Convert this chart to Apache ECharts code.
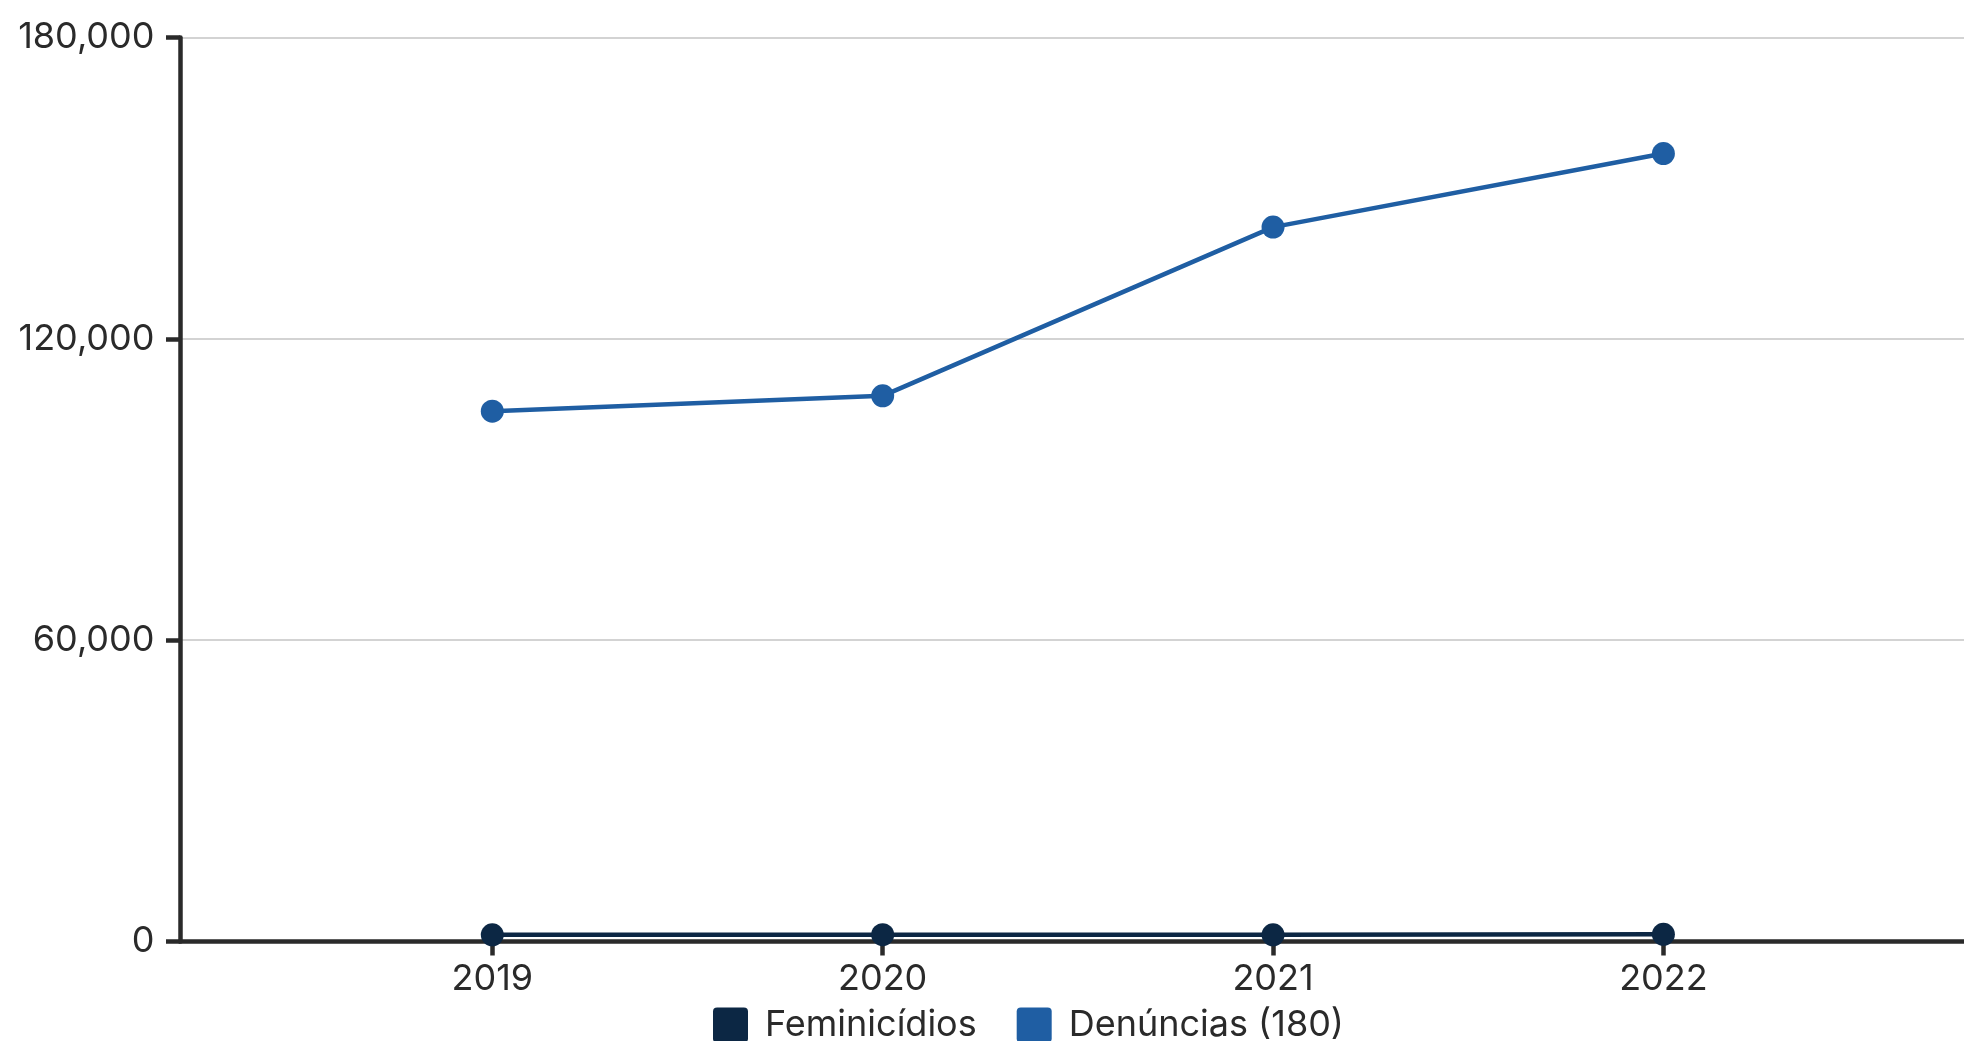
<!DOCTYPE html>
<html>
<head>
<meta charset="utf-8">
<script src="https://cdn.jsdelivr.net/npm/echarts@6/dist/echarts.min.js"></script>
<style>
html,body{margin:0;padding:0;background:#fff;}
#chart{width:1964px;height:1041px;}
</style>
</head>
<body>
<div id="chart"></div>
<script>
var years = [2019, 2020, 2021, 2022];
var feminicidios = [1330, 1354, 1341, 1437];
var denuncias = [105600, 108650, 142250, 156900];
var yTicks = [0, 60000, 120000, 180000];
var seriesNames = ['Feminicídios', 'Denúncias (180)'];

function pairs(xs, ys) { return xs.map(function (x, i) { return [x, ys[i]]; }); }

var chart = echarts.init(document.getElementById('chart'));
var textColor = '#2a2a2a';
var font = 'Inter';
var iconPath = 'path://M4,0H30Q34,0 34,4V30Q34,34 30,34H4Q0,34 0,30V4Q0,0 4,0Z';
chart.setOption({
  animation: false,
  color: ['#0c2744', '#1f5ea3'],
  grid: { left: 180, right: 0, top: 37.5, bottom: 99.5, containLabel: false },
  legend: {
    data: seriesNames,
    left: 708, top: 1002,
    itemWidth: 35, itemHeight: 35, itemGap: 40,
    icon: iconPath,
    textStyle: { fontFamily: font, fontSize: 36, color: textColor, padding: [0, 0, 0, 12] }
  },
  xAxis: {
    type: 'value',
    min: 2018.2, max: 2022.77,
    axisLine: { show: true, onZero: false, lineStyle: { color: textColor, width: 4.5 } },
    axisTick: { show: true, length: 14, customValues: years, lineStyle: { color: textColor, width: 4.5 } },
    axisLabel: { customValues: years, margin: 20, fontFamily: font, fontSize: 36, color: textColor,
      formatter: function (v) { return String(v); } },
    splitLine: { show: false }
  },
  yAxis: {
    type: 'value',
    min: yTicks[0], max: yTicks[yTicks.length - 1], interval: yTicks[1] - yTicks[0],
    axisLine: { show: true, lineStyle: { color: textColor, width: 4.5 } },
    axisTick: { show: true, length: 14, lineStyle: { color: textColor, width: 4.5 } },
    axisLabel: { margin: 25.5, fontFamily: font, fontSize: 36, color: textColor,
      formatter: function (v) { return v.toLocaleString('en-US'); } },
    splitLine: { show: true, lineStyle: { color: '#d3d3d3', width: 2 } }
  },
  series: [
    { name: seriesNames[0], type: 'line', data: pairs(years, feminicidios),
      symbol: 'circle', symbolSize: 23, lineStyle: { width: 4.5 }, z: 3 },
    { name: seriesNames[1], type: 'line', data: pairs(years, denuncias),
      symbol: 'circle', symbolSize: 23, lineStyle: { width: 4.5 }, z: 3 }
  ]
});
</script>
</body>
</html>
